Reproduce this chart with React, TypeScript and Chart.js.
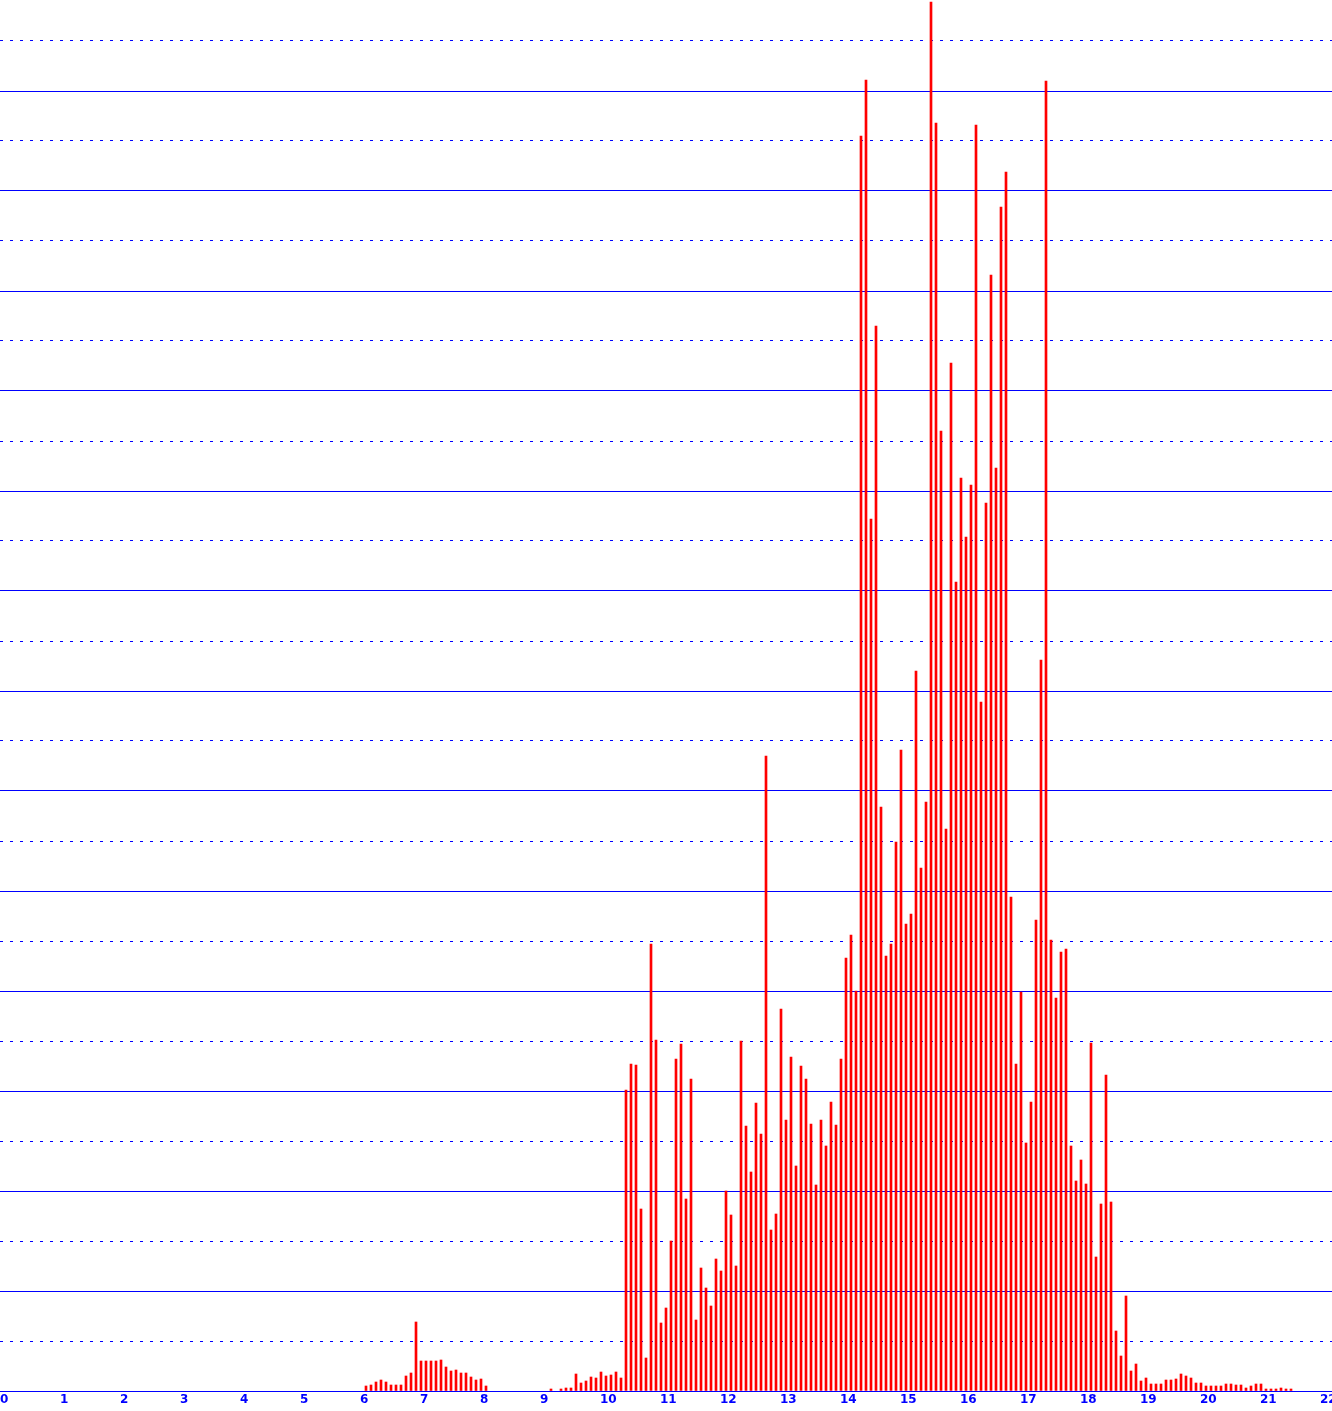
import { useEffect, useRef } from "react";
import { Chart, registerables } from "chart.js";

Chart.register(...registerables);

// Monthly bins (12 per year); first bin starts at month 72 (age 6y 0m)
const FIRST_BIN_MONTH = 72;
const BINS_PER_YEAR = 12;

// Axis range in years (tick labels 0 .. 22)
const X_MIN = -0.0583333;
const X_MAX = 22.1416667;
const Y_MAX = 278.2;
const Y_STEP = 10;

// Counts per monthly bin
const countsAge6to9 = [
  1, 1.2, 1.8, 2.2, 1.8, 1.2, 1.2, 1.2, 3, 3.6, 13.8, 6,
  6, 6, 6, 6.2, 4.8, 4, 4.2, 3.6, 3.6, 2.8, 2.2, 2.4,
  1, 0, 0, 0, 0, 0, 0, 0, 0, 0, 0, 0, 0,
];
const countsAge9to14 = [
  0.4, 0, 0.4, 0.6, 0.6, 3.4, 1.6, 2, 2.8, 2.6, 3.8, 3, 3.2, 3.8, 2.6,
  60.2, 65.4, 65.2, 36.4, 6.6, 89.4, 70.2, 13.6, 16.6, 30, 66.4, 69.4,
  38.4, 62.4, 14.2, 24.6, 20.6, 17, 26.4, 24, 40, 35.2, 25, 70, 53,
  43.8, 57.6, 51.4, 127, 32.2, 35.4, 76.4, 54.2, 66.8, 45, 65, 62.4,
  53.4, 41.2, 54.2, 49, 57.8, 53.2, 66.4, 86.6, 91.2, 80,
];
const countsAge14to17 = [
  251, 262.2, 174.4, 213, 116.8, 87, 89.4, 109.8, 128.2, 93.4, 95.4,
  144, 104.6, 117.8, 277.8, 253.6, 192, 112.4, 205.6, 161.8, 182.6,
  170.8, 181.2, 253.2, 137.8, 177.6, 223.2, 184.6, 236.8, 243.8, 98.8,
];
const countsAge17to19 = [
  65.4, 79.8, 49.6, 57.8, 94.2, 146.2, 262, 90.2, 78.6, 87.8, 88.4, 49,
  42, 46.2, 41.4, 69.6, 26.8, 37.4, 63.2, 37.8, 12, 7, 19,
];
const countsAge19to22 = [
  4, 5.4, 2, 2.6, 1.4, 1.4, 1.4, 2.2, 2.2, 2.4, 3.4, 3, 2.6, 1.6, 1.6,
  1, 1, 1, 1, 1.4, 1.4, 1.2, 1.2, 0.6, 1, 1.4, 1.4, 0.4, 0.4, 0.4, 0.6,
  0.4, 0.4,
];

const BLUE = "#0000ff";
const RED = "#ff0000";

export default function App() {
  const ref = useRef<HTMLCanvasElement>(null);

  useEffect(() => {
    const counts = [
      ...countsAge6to9,
      ...countsAge9to14,
      ...countsAge14to17,
      ...countsAge17to19,
      ...countsAge19to22,
    ];
    const points = counts
      .map((v, i) => ({
        x: (FIRST_BIN_MONTH + i + 0.5) / BINS_PER_YEAR,
        y: v,
      }))
      .filter((p) => p.y > 0);

    const chart = new Chart(ref.current!, {
      type: "bar",
      data: {
        datasets: [
          {
            data: points,
            backgroundColor: RED,
            borderWidth: 0,
            barThickness: 2,
          },
        ],
      },
      options: {
        animation: false,
        responsive: false,
        devicePixelRatio: 1,
        layout: { padding: 0 },
        plugins: {
          legend: { display: false },
          tooltip: { enabled: false },
          title: { display: false },
        },
        scales: {
          x: {
            type: "linear",
            min: X_MIN,
            max: X_MAX,
            offset: false,
            grid: { display: false, drawTicks: false, offset: false },
            border: { display: true, color: BLUE, width: 1 },
            ticks: {
              stepSize: 1,
              includeBounds: false,
              autoSkip: false,
              maxRotation: 0,
              minRotation: 0,
              align: "start",
              labelOffset: -3.5,
              padding: 2,
              color: BLUE,
              font: { family: "DejaVu Sans", size: 12, weight: "bold" },
            },
            afterFit: (s: any) => {
              s.height = 20;
              s.paddingLeft = 0;
              s.paddingRight = 0;
            },
          },
          y: {
            type: "linear",
            min: 0,
            max: Y_MAX,
            grid: { color: BLUE, lineWidth: 1, drawTicks: false },
            border: {
              display: false,
              dash: (c: any) =>
                c.tick && Math.round(c.tick.value) % (2 * Y_STEP) === Y_STEP
                  ? [3, 7]
                  : [],
            },
            ticks: { display: false, stepSize: Y_STEP, includeBounds: false },
            afterFit: (s: any) => {
              s.width = 0;
              s.paddingTop = 0;
              s.paddingBottom = 0;
            },
          },
        },
      },
    } as any);

    return () => chart.destroy();
  }, []);

  return (
    <div
      style={{
        position: "absolute",
        left: 0,
        top: 0,
        width: 1332,
        height: 1411,
        background: "#ffffff",
      }}
    >
      <canvas
        ref={ref}
        width={1332}
        height={1411}
        style={{ display: "block", width: 1332, height: 1411 }}
      />
    </div>
  );
}
